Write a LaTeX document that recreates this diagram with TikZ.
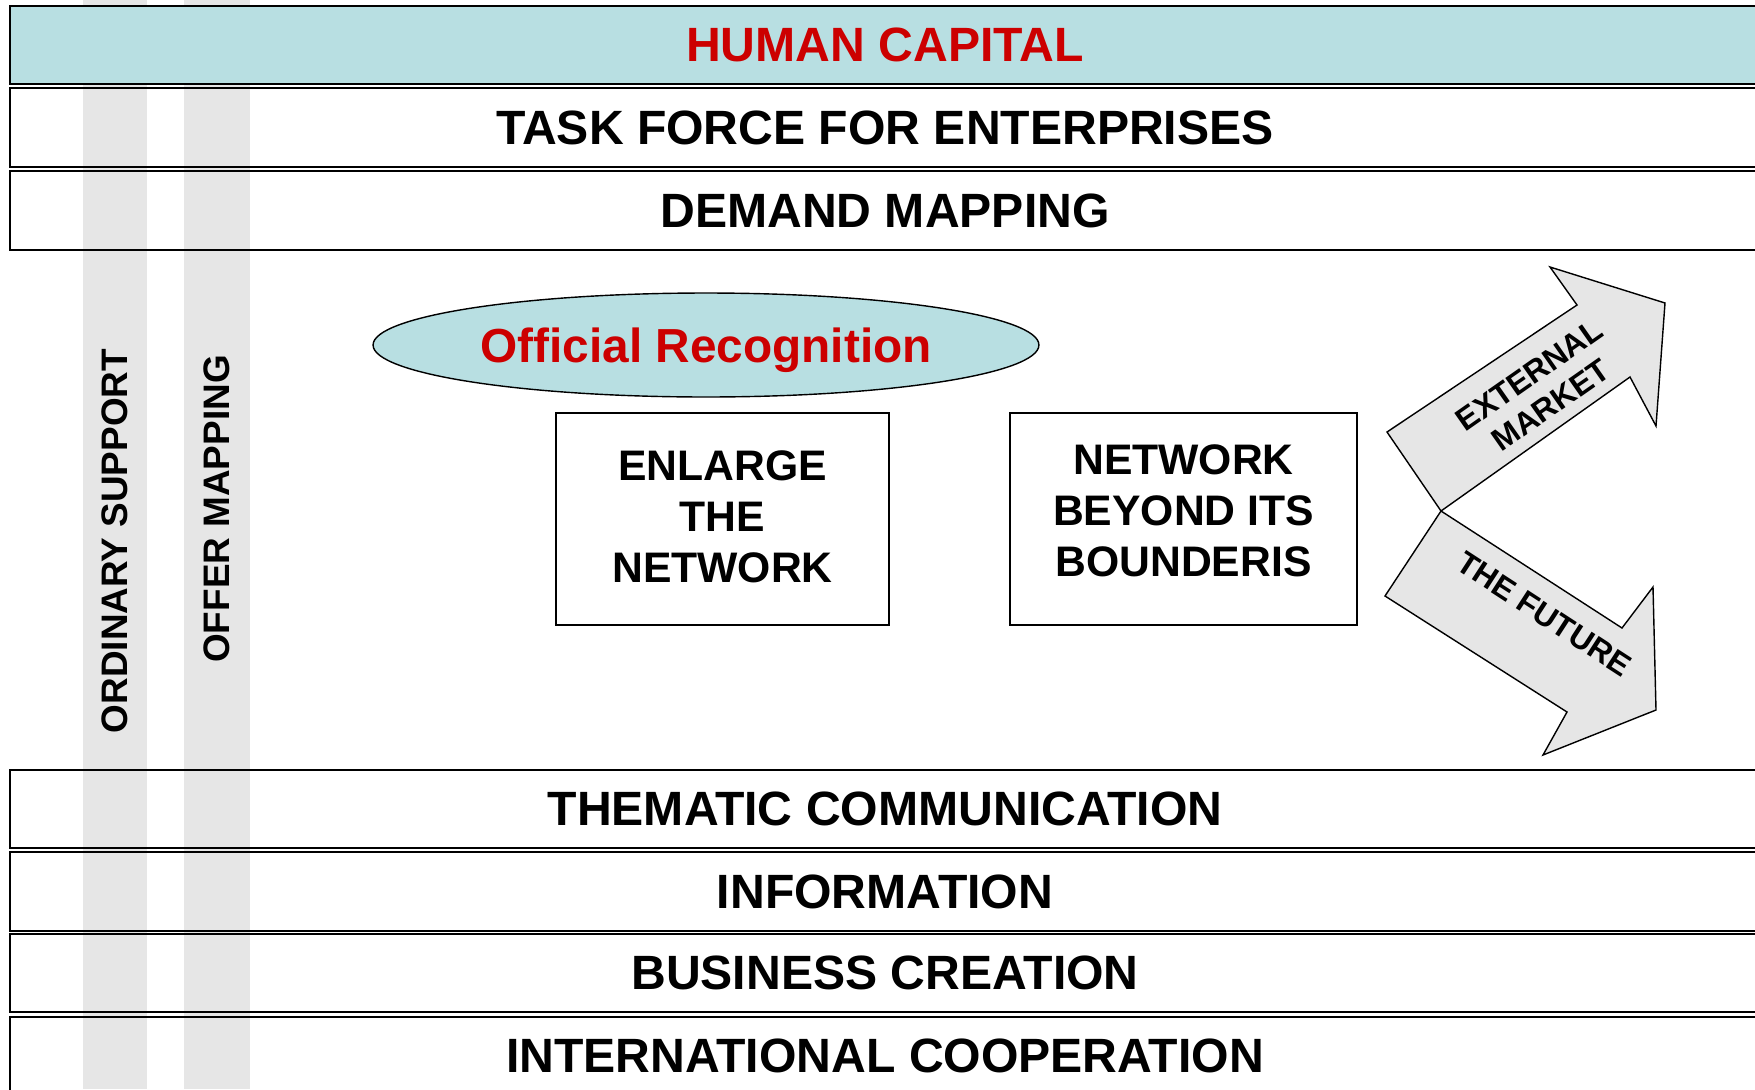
\documentclass[tikz,border=0pt]{standalone}
\usepackage{fontspec}
\setmainfont{Liberation Sans}
\usepackage{xcolor}
\usepackage{tikz}
\usetikzlibrary{shapes.geometric}

\definecolor{capcyan}{RGB}{184,223,226}
\definecolor{capred}{RGB}{204,0,0}
\definecolor{dotgray}{RGB}{230,230,230}

\begin{document}
\begin{tikzpicture}[x=0.02cm, y=-0.02cm,
    band/.style={draw, line width=1.1pt, minimum width=35cm, minimum height=1.57cm,
        inner sep=0pt, font=\fontsize{27.4}{32}\selectfont\bfseries},
    taskbox/.style={draw, line width=0.8pt, minimum height=4.24cm, align=center,
        font=\fontsize{24.3}{29}\selectfont\bfseries},
    sidelabel/.style={rotate=90, font=\fontsize{21}{25}\selectfont\bfseries},
    bigarrow/.style={draw, line width=0.8pt, fill=dotgray, line join=miter},
    arrowlabel/.style={align=center, font=\fontsize{18}{21}\selectfont\bfseries}]
    \useasboundingbox (0,0) rectangle (1755,1089);
    \clip (0,0) rectangle (1755,1089);

    % Dotted columns
    \fill[dotgray] (83,0) rectangle (147,1089);
    \fill[dotgray] (184,0) rectangle (250,1089);

    % Top bands
    \node[band, fill=capcyan, text=capred] (human) at (885,45) {HUMAN CAPITAL};
    \node[band] (taskforce) at (885,127.5) {TASK FORCE FOR ENTERPRISES};
    \node[band] (demand) at (885,210.5) {DEMAND MAPPING};

    % Bottom bands
    \node[band] (thematic) at (885,809) {THEMATIC COMMUNICATION};
    \node[band] (information) at (885,891.5) {INFORMATION};
    \node[band] (business) at (885,973) {BUSINESS CREATION};
    \node[band] (international) at (885,1056) {INTERNATIONAL COOPERATION};

    % Column labels
    \node[sidelabel] (ordinary) at (115,541) {ORDINARY SUPPORT};
    \node[sidelabel] (offer) at (217,509) {OFFER MAPPING};

    % Recognition
    \node[ellipse, draw, line width=0.8pt, fill=capcyan, text=capred,
        minimum width=13.32cm, minimum height=2.08cm, inner sep=0pt, text depth=0pt,
        font=\fontsize{27.2}{32}\selectfont\bfseries] (official) at (706,345) {Official Recognition};

    % Network boxes
    \node[taskbox, minimum width=6.66cm, text depth=3pt] (enlarge) at (722.5,519) {ENLARGE\\THE\\NETWORK};
    \node[taskbox, minimum width=6.94cm, text depth=10pt] (beyond) at (1183.5,519) {NETWORK\\BEYOND ITS\\BOUNDERIS};

    % Arrows
    \draw[bigarrow] (1387,432) -- (1577,305) -- (1550,267) -- (1665,303)
        -- (1656,426) -- (1630,377) -- (1441,511) -- cycle;
    \draw[bigarrow] (1441,511) -- (1622,628) -- (1653,587) -- (1656,710)
        -- (1543,755) -- (1567,712) -- (1385,596) -- cycle;
    \node[arrowlabel, rotate=35] (external) at (1540,390) {EXTERNAL\\MARKET};
    \node[arrowlabel, rotate=-33] (future) at (1544,614) {THE FUTURE};
\end{tikzpicture}
\end{document}
